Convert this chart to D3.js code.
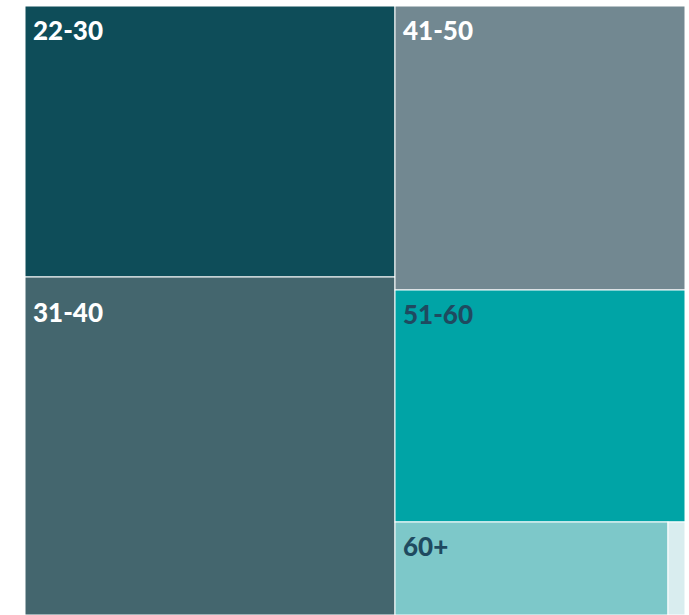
<!DOCTYPE html>
<html>
<head>
<meta charset="utf-8">
<script src="https://cdn.jsdelivr.net/npm/d3@7"></script>
<style>
html,body{margin:0;padding:0;background:#fff;}
svg{display:block;}
</style>
</head>
<body>
<div id="chart"></div>
<script>
const categories = ["22-30", "31-40", "41-50", "51-60", "60+", "<22"];
const values = [24.9, 31.1, 20.4, 16.7, 6.3, 0.4];
const colors = ["#0e4d59", "#44666e", "#728891", "#00a4a6", "#7dc8c9", "#d9edef"];
const labelColors = ["#ffffff", "#ffffff", "#ffffff", "#1f4a60", "#1f4a60", "#1f4a60"];

const W = 689, H = 615;
const x0 = 25, y0 = 6, x1 = 685, y1 = 615;
// label vertical offsets (style only)
const labelDy = {"31-40": 45};

const svg = d3.select("#chart").append("svg").attr("width", W).attr("height", H);

const data = {children: categories.map((c, i) => ({name: c, value: values[i], i}))};
const root = d3.hierarchy(data).sum(d => d.value || 0);
d3.treemap().tile(d3.treemapSquarify).size([x1 - x0, y1 - y0]).paddingInner(0).round(true)(root);

const g = svg.append("g").attr("transform", `translate(${x0},${y0})`);
const cells = g.selectAll("g.cell").data(root.leaves()).join("g").attr("class", "cell")
  .attr("transform", d => `translate(${d.x0},${d.y0})`);

cells.append("rect")
  .attr("width", d => d.x1 - d.x0)
  .attr("height", d => d.y1 - d.y0)
  .attr("fill", d => colors[d.data.i])
  .attr("stroke", "#ffffff")
  .attr("stroke-width", 1);

cells.filter(d => d.x1 - d.x0 > 50).append("text")
  .attr("x", 8)
  .attr("y", d => labelDy[d.data.name] || 34)
  .attr("fill", d => labelColors[d.data.i])
  .style("font-family", "Lato, 'Open Sans', sans-serif")
  .style("font-weight", 900)
  .style("font-size", "26px")
  .text(d => d.data.name);
</script>
</body>
</html>
